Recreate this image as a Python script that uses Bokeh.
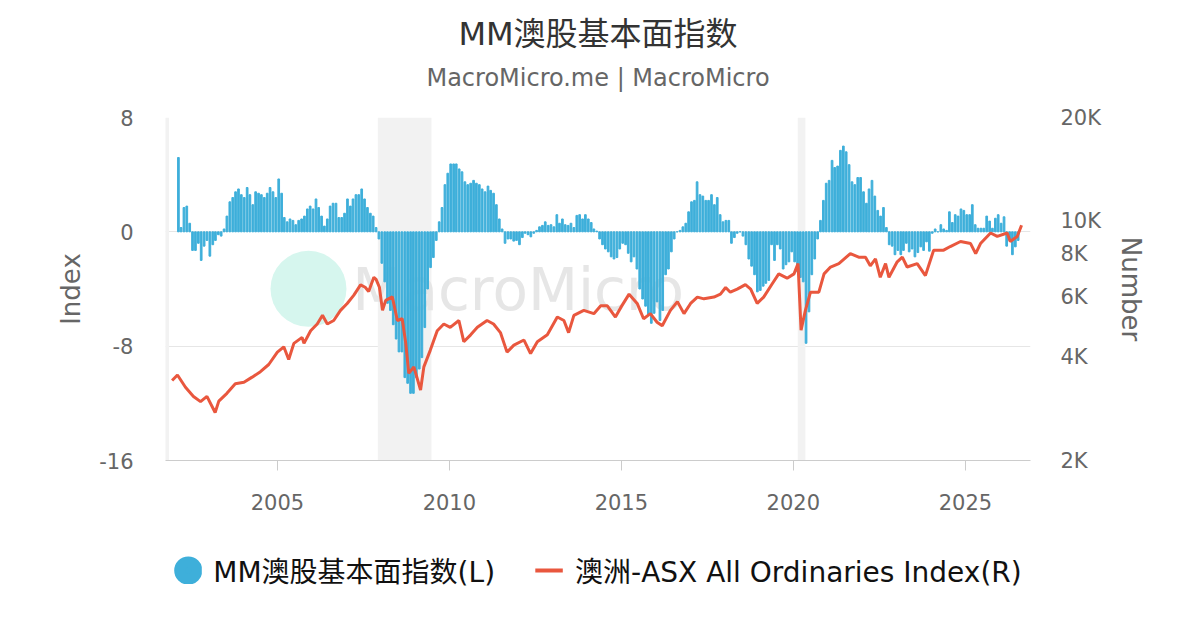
import pandas as pd

from bokeh.embed import file_html
from bokeh.layouts import column
from bokeh.models import (BoxAnnotation, ColumnDataSource, CustomJSTickFormatter, FixedTicker,
                          Label, Legend, LegendItem, LogAxis, LogScale, Range1d)
from bokeh.plotting import figure
from bokeh.resources import INLINE

FONT = "DejaVu Sans, Noto Sans CJK SC"

title_text = "MM澳股基本面指数"
subtitle_text = "MacroMicro.me | MacroMicro"

# MM fundamental index, monthly from 2002-02 (left axis)
index_start = "2002-02-01"
index_values = [
    5.2, 0.3, 1.7, 1.8, 0.6, -1.3, -1.3, -0.8, -2.0, -1.0, -0.6,                # 2002
    -1.7, -0.9, -0.6, -0.2, -0.3, 0.2, 1.1, 2.1, 2.4, 2.8, 3.0, 2.6,             # 2003
    2.4, 3.1, 2.6, 1.9, 2.8, 2.7, 2.6, 2.4, 2.7, 3.1, 2.8, 2.4,                  # 2004
    3.7, 2.7, 1.0, 0.7, 0.9, 0.8, 0.5, 0.8, 0.9, 1.1, 1.6, 1.8,                  # 2005
    1.6, 2.3, 1.7, 1.1, 0.4, 0.9, 1.8, 2.0, 2.0, 1.0, 1.0, 1.3,                  # 2006
    2.3, 1.8, 2.3, 2.6, 2.6, 3.0, 2.3, 1.7, 1.3, 1.1, 0.3, -0.5,                 # 2007
    -2.2, -3.5, -5.0, -5.5, -6.5, -7.5, -8.4, -8.4, -10.2, -10.6, -11.3, -11.3,  # 2008
    -10.2, -9.6, -8.8, -6.7, -4.0, -2.5, -1.8, -0.6, 0.7, 1.7, 3.3, 4.1,         # 2009
    4.75, 4.75, 4.75, 4.4, 4.2, 3.5, 3.3, 3.4, 3.6, 3.4, 3.3, 3.0,               # 2010
    2.8, 3.2, 2.9, 2.7, 1.9, 0.9, 0.2, -0.8, -0.5, -0.5, -0.65, -0.6,            # 2011
    -0.9, -0.4, -0.1, -0.2, -0.35, -0.1, 0.1, 0.35, 0.45, 0.7, 0.45, 0.5,        # 2012
    0.35, 1.2, 0.6, 0.9, 0.5, 0.45, 0.6, 0.3, 1.15, 1.2, 0.9, 1.2,               # 2013
    0.9, 0.65, 0.2, 0.05, -0.5, -0.9, -1.2, -1.4, -1.75, -1.9, -1.8, -1.2,       # 2014
    -0.8, -0.9, -1.5, -2.1, -1.75, -2.6, -4.0, -4.7, -5.2, -5.8, -6.4, -5.7,     # 2015
    -4.9, -6.2, -5.5, -3.0, -2.6, -1.4, -0.5, 0.0, 0.1, 0.35, 0.6, 1.4,          # 2016
    2.1, 2.2, 3.5, 2.6, 2.5, 2.2, 2.2, 2.6, 1.9, 2.4, 1.2, 0.7,                  # 2017
    0.8, 0.8, -0.8, -0.4, -0.1, 0.0, -0.3, -0.9, -1.9, -2.4, -3.0, -4.2,         # 2018
    -4.1, -3.8, -3.6, -3.4, -0.9, -2.0, -0.9, -1.2, -2.6, -2.3, -2.1, -1.4,      # 2019
    -2.1, -2.8, -3.2, -3.5, -7.8, -5.6, -3.0, -1.9, -0.5, 0.8, 2.2, 3.4,         # 2020
    3.6, 5.0, 4.5, 4.6, 5.7, 6.0, 5.6, 4.7, 3.5, 3.3, 3.8, 3.8,                  # 2021
    2.8, 2.0, 3.0, 3.6, 2.5, 1.5, 1.1, 1.7, 0.3, -0.9, -1.0, -1.6,               # 2022
    -1.3, -1.6, -1.3, -0.8, -1.4, -1.2, -1.75, -1.45, -1.05, -1.3, -0.7, -1.35,  # 2023
    -0.1, 0.2, 0.0, 0.5, 0.2, 0.1, 1.4, 0.65, 1.2, 1.1, 1.6, 1.5,                # 2024
    1.2, 1.2, 1.9, 0.5, 0.25, 0.25, 0.25, 1.1, 0.75, 0.25, 0.95, 1.2,            # 2025
    0.6, 1.05, -1.0, -0.6, -1.6, -1.05, -0.6,                                    # 2026
]

# ASX All Ordinaries (right axis, log)
asx_dates = [
    "2001-12-10", "2002-02-05", "2002-05-01", "2002-07-25", "2002-10-08", "2002-12-15",
    "2003-03-12", "2003-04-20", "2003-07-15", "2003-10-12", "2004-01-12", "2004-04-08",
    "2004-07-05", "2004-10-01", "2005-01-01", "2005-03-10", "2005-05-01", "2005-06-25",
    "2005-09-20", "2005-10-10", "2005-12-20", "2006-02-28", "2006-04-25", "2006-06-15",
    "2006-08-22", "2006-11-02", "2007-01-12", "2007-03-22", "2007-06-03", "2007-07-22",
    "2007-08-28", "2007-10-22", "2007-11-15", "2007-12-20", "2008-01-22", "2008-02-25",
    "2008-05-05", "2008-06-28", "2008-08-18", "2008-09-25", "2008-10-27", "2008-12-20",
    "2009-03-01", "2009-04-05", "2009-06-12", "2009-08-25", "2009-11-03", "2010-01-10",
    "2010-04-12", "2010-06-03", "2010-08-15", "2010-10-25", "2011-02-05", "2011-04-15",
    "2011-06-27", "2011-09-05", "2011-11-17", "2012-03-03", "2012-05-12", "2012-07-23",
    "2012-11-06", "2013-02-20", "2013-05-01", "2013-06-20", "2013-08-15", "2013-11-28",
    "2014-03-15", "2014-05-27", "2014-08-05", "2014-10-30", "2014-12-25", "2015-03-24",
    "2015-06-18", "2015-08-25", "2015-11-05", "2016-01-15", "2016-03-10", "2016-06-05",
    "2016-08-18", "2016-10-27", "2017-01-05", "2017-03-18", "2017-05-27", "2017-09-10",
    "2017-11-18", "2018-01-12", "2018-03-03", "2018-05-15", "2018-08-10", "2018-10-05",
    "2018-12-13", "2019-02-20", "2019-05-22", "2019-07-30", "2019-10-27", "2020-01-08",
    "2020-02-20", "2020-03-23", "2020-05-08", "2020-07-01", "2020-09-28", "2020-11-22",
    "2021-01-30", "2021-04-28", "2021-08-28", "2021-11-25", "2022-02-05", "2022-03-28",
    "2022-05-22", "2022-07-12", "2022-09-06", "2022-10-12", "2023-01-08", "2023-03-03",
    "2023-04-23", "2023-08-08", "2023-11-03", "2024-01-30", "2024-05-15", "2024-07-24",
    "2024-11-10", "2025-02-25", "2025-04-20", "2025-06-10", "2025-09-25", "2025-12-05",
    "2026-03-20", "2026-04-22", "2026-07-05", "2026-08-20",
]
asx_values = [
    3420, 3550, 3270, 3075, 2970, 3075,
    2760, 2980, 3140, 3350, 3380, 3500,
    3630, 3810, 4140, 4290, 3940, 4390,
    4570, 4390, 4780, 5000, 5300, 5000,
    5120, 5480, 5740, 6060, 6500, 6400,
    6220, 6840, 6750, 6400, 5480, 5860,
    6000, 5120, 5180, 4390, 3590, 3750,
    3210, 3750, 4190, 4780, 5000, 4890,
    5120, 4440, 4650, 4890, 5120, 5000,
    4720, 4140, 4340, 4490, 4100, 4440,
    4650, 5240, 5120, 4720, 5300, 5480,
    5360, 5650, 5650, 5240, 5580, 6110,
    5740, 5180, 5360, 5060, 4940, 5480,
    5810, 5360, 5740, 5990, 5920, 5990,
    6110, 6390, 6190, 6320, 6510, 6320,
    5740, 5990, 6550, 7000, 6800, 7000,
    7500, 4800, 5480, 6190, 6190, 7000,
    7330, 7500, 8020, 7830, 7830, 7390,
    7740, 6840, 7500, 6840, 7590, 7830,
    7330, 7500, 6920, 8210, 8210, 8410,
    8700, 8580, 8020, 8580, 9210, 9000,
    9210, 8700, 9000, 9700,
]

# shaded recession periods
recession_starts = ["2001-03-01", "2007-12-03", "2020-02-17"]
recession_ends = ["2001-11-07", "2009-06-25", "2020-05-08"]

left_ticks = [-16, -8, 0, 8]
right_ticks = [2000, 4000, 6000, 8000, 10000, 20000]
year_ticks = [2005, 2010, 2015, 2020, 2025]

BLUE = "#3eafda"
RED = "#e9573e"
NAN = float("nan")


def ms(d):
    return pd.Timestamp(d).value / 1e6


def strip(height):
    # plain figure used only to hold texts / legend, its frame fills the whole area
    f = figure(width=1200, height=height, x_range=Range1d(0, 1200), y_range=Range1d(0, height),
               x_axis_location=None, y_axis_location=None, output_backend="svg",
               toolbar_location=None, min_border=0, title=None)
    f.outline_line_color = None
    f.grid.visible = False
    return f


bar_dates = pd.date_range(index_start, periods=len(index_values), freq="MS") + pd.Timedelta(days=14)
bars = ColumnDataSource(data=dict(date=bar_dates, value=index_values))
asx = ColumnDataSource(data=dict(date=pd.to_datetime(asx_dates), value=asx_values))

# title strip
head = strip(97)
head.add_layout(Label(x=600, y=64, text=title_text, text_align="center", text_baseline="middle",
                      text_font=FONT, text_font_size="32px", text_color="#333333"))
head.add_layout(Label(x=600, y=20, text=subtitle_text, text_align="center", text_baseline="middle",
                      text_font=FONT, text_font_size="24px", text_color="#666666"))

p = figure(
    width=1200,
    height=433,
    title=None,
    x_axis_type="datetime",
    x_range=Range1d(ms("2001-10-01"), ms("2026-11-23")),
    y_range=Range1d(-16, 8),
    output_backend="svg",
    toolbar_location=None,
    min_border_left=165,
    min_border_right=170,
    min_border_top=20,
    min_border_bottom=70,
)
p.extra_y_ranges = {"asx": Range1d(2000, 20000)}
p.extra_y_scales = {"asx": LogScale()}
p.outline_line_color = None
p.background_fill_color = "white"

# recession shading
for s, e in zip(recession_starts, recession_ends):
    p.add_layout(BoxAnnotation(left=ms(s), right=ms(e), fill_color="#f2f2f2", fill_alpha=1.0,
                               line_alpha=0, level="underlay"))

# watermark
p.scatter(x=[ms("2005-11-27")], y=[-3.99], size=76, marker="circle", fill_color="#d6f6ee",
          line_color=None, level="underlay")
p.add_layout(Label(x=ms("2007-03-08"), y=-4.1, text="MacroMicro", text_font=FONT,
                   text_font_size="58px", text_color="#e6e6e6", text_baseline="middle",
                   level="underlay"))

# grid and axes
p.xgrid.grid_line_color = None
p.ygrid.ticker = FixedTicker(ticks=left_ticks)
p.ygrid.grid_line_color = "#e6e6e6"

p.yaxis.ticker = FixedTicker(ticks=left_ticks)
p.yaxis.formatter = CustomJSTickFormatter(code="return String(tick);")
p.yaxis.axis_line_color = None
p.yaxis.major_tick_line_color = None
p.yaxis.minor_tick_line_color = None
p.yaxis.major_label_text_font = FONT
p.yaxis.major_label_text_font_size = "21px"
p.yaxis.major_label_text_color = "#666666"
p.yaxis.major_label_standoff = 26
p.yaxis.axis_label = "Index"
p.yaxis.axis_label_text_font = FONT
p.yaxis.axis_label_text_font_size = "26px"
p.yaxis.axis_label_text_font_style = "normal"
p.yaxis.axis_label_text_color = "#666666"
p.yaxis.axis_label_standoff = 10

p.xaxis.ticker = FixedTicker(ticks=[ms(f"{y}-01-01") for y in year_ticks])
p.xaxis.formatter = CustomJSTickFormatter(code="return String(new Date(tick).getUTCFullYear());")
p.xaxis.axis_line_color = "#cccccc"
p.xaxis.major_tick_line_color = "#cccccc"
p.xaxis.major_tick_in = 0
p.xaxis.major_tick_out = 10
p.xaxis.minor_tick_line_color = None
p.xaxis.major_label_text_font = FONT
p.xaxis.major_label_text_font_size = "21px"
p.xaxis.major_label_text_color = "#666666"
p.xaxis.major_label_standoff = 23

right = LogAxis(y_range_name="asx", ticker=FixedTicker(ticks=right_ticks),
                formatter=CustomJSTickFormatter(code="return Math.round(tick / 1000) + 'K';"))
right.axis_line_color = None
right.major_tick_line_color = None
right.minor_tick_line_color = None
right.major_label_text_font = FONT
right.major_label_text_font_size = "21px"
right.major_label_text_color = "#666666"
right.major_label_standoff = 24
right.axis_label = "Number"
right.axis_label_text_font = FONT
right.axis_label_text_font_size = "26px"
right.axis_label_text_font_style = "normal"
right.axis_label_text_color = "#666666"
right.axis_label_standoff = 12
p.add_layout(right, "right")

# data
p.vbar(x="date", top="value", width=18 * 86400000, source=bars, color=BLUE)
p.line(x="date", y="value", source=asx, color=RED, line_width=3, y_range_name="asx")

# legend strip underneath the chart
leg = strip(80)
# stand-in glyphs sized like the reference keys (one NaN point, so nothing is drawn)
bar_key = leg.scatter(x=[NAN], y=[NAN], marker="circle", fill_color=BLUE, line_color=BLUE,
                      line_width=17)
line_key = leg.line(x=[NAN, NAN], y=[NAN, NAN], color=RED, line_width=4)
legend = Legend(
    items=[LegendItem(label="MM澳股基本面指数(L)", renderers=[bar_key]),
           LegendItem(label="澳洲-ASX All Ordinaries Index(R)", renderers=[line_key])],
    orientation="horizontal",
    location="center",
    glyph_width=28,
    glyph_height=28,
    label_standoff=12,
    spacing=40,
    padding=0,
    margin=0,
    label_text_font=FONT,
    label_text_font_size="28px",
    label_text_color="#111111",
    border_line_color=None,
    background_fill_alpha=0,
)
leg.add_layout(legend, "center")

page = column(head, p, leg, spacing=0)
open("out.html", "w").write(file_html(page, INLINE))
